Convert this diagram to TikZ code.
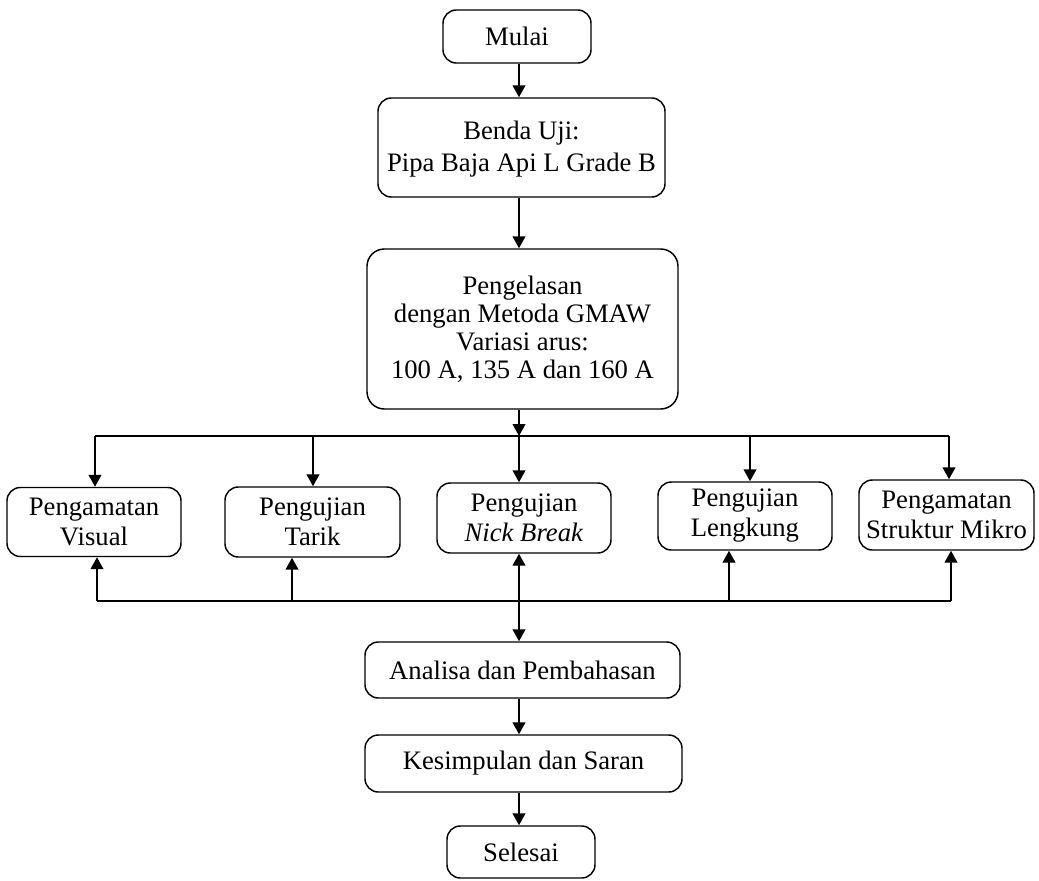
\documentclass[tikz,border=0pt]{standalone}
\usepackage{fontspec}
\setmainfont{Liberation Serif}
\usetikzlibrary{arrows.meta}
\begin{document}
\begin{tikzpicture}[x=0.75pt,y=-0.75pt,
  box/.style={draw, rounded corners=10pt, line width=1.1pt, align=center,
    font=\fontsize{20}{22.5}\selectfont, inner sep=0pt},
  conn/.style={line width=1.6pt},
  arr/.style={conn, -{Triangle[length=9pt,width=9.5pt]}}]
\useasboundingbox (0,0) rectangle (1039,881);
% nodes
\node[box, minimum width=111pt, minimum height=39.75pt] (mulai) at (517,36.5) {Mulai};
\node[box, minimum width=215.25pt, minimum height=74.25pt, font=\fontsize{20}{24}\selectfont, text depth=2pt] (benda) at (521.5,147.5) {Benda Uji:\\Pipa Baja Api L Grade B};
\node[box, rounded corners=13pt, minimum width=233.25pt, minimum height=120pt, font=\fontsize{20}{21}\selectfont] (las) at (522.5,329) {Pengelasan\\dengan Metoda GMAW\\Variasi arus:\\100 A, 135 A dan 160 A};
\node[box, minimum width=130.5pt, minimum height=51.75pt] (visual) at (94,522) {Pengamatan\\Visual};
\node[box, minimum width=131.25pt, minimum height=52.5pt] (tarik) at (312.5,522) {Pengujian\\Tarik};
\node[box, minimum width=130.5pt, minimum height=52.5pt] (nick) at (524,518) {Pengujian\\\textit{Nick Break}};
\node[box, minimum width=130.5pt, minimum height=51pt] (lengkung) at (745,516) {Pengujian\\Lengkung};
\node[box, minimum width=131.25pt, minimum height=52.5pt] (mikro) at (946.5,515) {Pengamatan\\Struktur Mikro};
\node[box, minimum width=236.25pt, minimum height=42pt] (analisa) at (522.5,670) {Analisa dan Pembahasan};
\node[box, minimum width=237.75pt, minimum height=42.75pt] (kesimpulan) at (523.5,763.5) {Kesimpulan dan Saran};
\node[box, minimum width=111pt, minimum height=39pt] (selesai) at (521,852) {Selesai};
% coordinates
\coordinate (ax) at (519,0);
\coordinate (top) at (519,436);
\coordinate (t1) at (95,436);
\coordinate (t2) at (313,436);
\coordinate (t4) at (750,436);
\coordinate (t5) at (949,436);
\coordinate (b1) at (97,601);
\coordinate (b2) at (292,601);
\coordinate (b3) at (519,601);
\coordinate (b4) at (729,601);
\coordinate (b5) at (951,601);
% main flow
\draw[arr] (mulai.south -| ax) -- (benda.north -| ax);
\draw[arr] (benda.south -| ax) -- (las.north -| ax);
\draw[arr] (las.south -| ax) -- (top);
\draw[conn] (t1) -- (t5);
\draw[arr] (t1) -- (t1 |- visual.north);
\draw[arr] (t2) -- (t2 |- tarik.north);
\draw[arr] (top) -- (top |- nick.north);
\draw[arr] (t4) -- (t4 |- lengkung.north);
\draw[arr] (t5) -- (t5 |- mikro.north);
\draw[conn] (b1) -- (b5);
\draw[arr] (b1) -- (b1 |- visual.south);
\draw[arr] (b2) -- (b2 |- tarik.south);
\draw[arr] (b3) -- (b3 |- nick.south);
\draw[arr] (b4) -- (b4 |- lengkung.south);
\draw[arr] (b5) -- (b5 |- mikro.south);
\draw[arr] (b3) -- (b3 |- analisa.north);
\draw[arr] (analisa.south -| ax) -- (kesimpulan.north -| ax);
\draw[arr] (kesimpulan.south -| ax) -- (selesai.north -| ax);
\end{tikzpicture}
\end{document}
